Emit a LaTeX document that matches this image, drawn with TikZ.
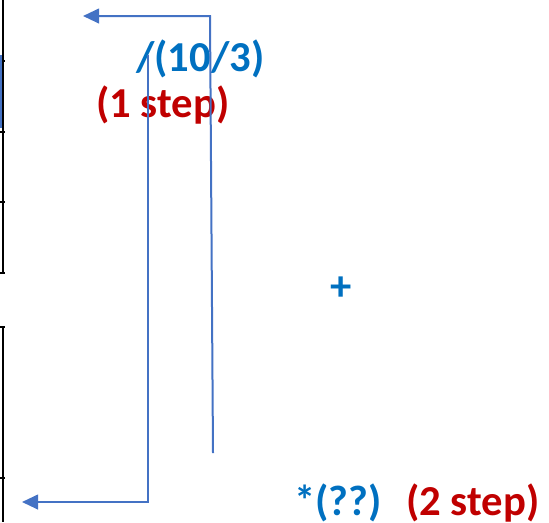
\documentclass[tikz,border=0pt]{standalone}
\usepackage{fontspec}
\setmainfont{Carlito}
\usetikzlibrary{arrows.meta}
\definecolor{opblue}{HTML}{0070C0}
\definecolor{stepred}{HTML}{C00000}
\definecolor{linkblue}{HTML}{4472C4}
\tikzset{
  bigbold/.style={font=\bfseries\fontsize{32}{38}\selectfont, inner sep=0pt},
  oplabel/.style={bigbold, text=opblue, anchor=base west},
  steplabel/.style={bigbold, text=stepred, anchor=base west},
  link/.style={draw=linkblue, line width=1.5pt, -{Triangle[length=12pt,width=11pt]}},
  edge/.style={draw=black, line width=1.6pt},
}
\begin{document}
\begin{tikzpicture}[x=0.75pt, y=-0.75pt]
\useasboundingbox (0,0) rectangle (549,522);

% partial table edges on the left
\draw[edge] (3,0) -- (3,273);
\draw[edge] (-1,132) -- (5,132);
\draw[edge] (-1,202) -- (5,202);
\draw[edge] (-1,273) -- (5,273);
\draw[edge] (3,61) -- (5,61);
\draw[draw=linkblue, line width=1pt] (1,55) -- (1,128);
\draw[edge] (-1,327) -- (5,327) (3,327) -- (3,522);
\draw[edge] (-1,478) -- (5,478);

% labels
\node[oplabel] (div) at (136,71) {/(10/3)};
\node[steplabel] (one) at (96,117) {(1 step)};
\node[bigbold, text=opblue] (plus) at (341,289) {+};
\node[oplabel] (mul) at (294,515) {*(??)};
\node[steplabel] (two) at (406,515) {(2 step)};

% connectors
\coordinate (upstart) at (213,453);
\coordinate (upcorner) at (210,16);
\coordinate (uptip) at (83,16);
\coordinate (downstart) at (148,55);
\coordinate (downcorner) at (148,502);
\coordinate (downtip) at (22,502);
\draw[link] (upstart) -- (upcorner) -- (uptip);
\draw[link] (downstart) -- (downcorner) -- (downtip);
\end{tikzpicture}
\end{document}
